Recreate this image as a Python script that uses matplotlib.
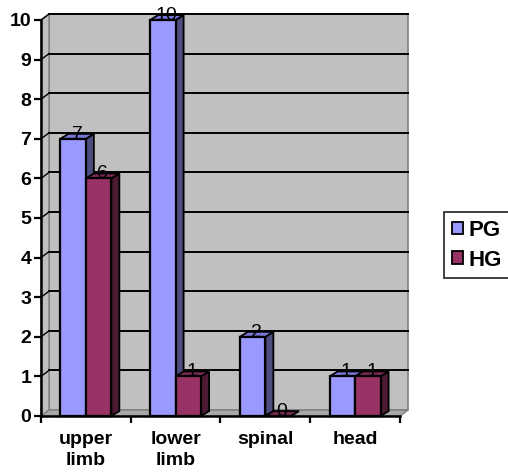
import matplotlib
matplotlib.use("Agg")
import matplotlib.pyplot as plt
from matplotlib.patches import Polygon
from matplotlib.lines import Line2D

plt.rcParams["font.family"] = ["Liberation Sans", "DejaVu Sans"]

categories = ["upper\nlimb", "lower\nlimb", "spinal", "head"]
series_names = ["PG", "HG"]
pg_values = [7, 10, 2, 1]
hg_values = [6, 1, 0, 1]

# colours: front, top, side
PG_COL = ("#9999FF", "#7878D8", "#4D4D80")
HG_COL = ("#993366", "#7A2952", "#4D1A33")
WALL = "#C0C0C0"

# 3D offsets (data units)
WALL_DX, WALL_DY = 0.089, 0.15
BAR_DX, BAR_DY = 0.089, 0.125
BAR_W = 0.284
Y_MAX = 10
FS = 14

fig = plt.figure(figsize=(5.08, 4.72), dpi=100)
ax = fig.add_axes([41 / 508, 56 / 472, 359 / 508, 396 / 472])
ax.set_xlim(0, len(categories))
ax.set_ylim(0, Y_MAX)
ax.set_facecolor("none")

n = len(categories)

# --- walls ---------------------------------------------------------------
back = Polygon([(WALL_DX, WALL_DY), (n + WALL_DX, WALL_DY),
                (n + WALL_DX, Y_MAX + WALL_DY), (WALL_DX, Y_MAX + WALL_DY)],
               closed=True, facecolor=WALL, edgecolor="#808080", lw=1.2,
               zorder=0, clip_on=False)
left = Polygon([(0, 0), (WALL_DX, WALL_DY), (WALL_DX, Y_MAX + WALL_DY), (0, Y_MAX)],
               closed=True, facecolor=WALL, edgecolor="#808080", lw=1.0,
               zorder=0, clip_on=False)
floor = Polygon([(0, 0), (n, 0), (n + WALL_DX, WALL_DY), (WALL_DX, WALL_DY)],
                closed=True, facecolor="#A8A8A8", edgecolor="#808080", lw=1.0,
                zorder=0.5, clip_on=False)
for p in (back, left, floor):
    ax.add_patch(p)

for v in range(1, Y_MAX + 1):
    ax.add_line(Line2D([WALL_DX, n + WALL_DX], [v + WALL_DY, v + WALL_DY],
                       color="black", lw=1.4, zorder=0.6, clip_on=False))
    ax.add_line(Line2D([0, WALL_DX], [v, v + WALL_DY],
                       color="black", lw=1.0, zorder=0.6, clip_on=False))


# --- bars ----------------------------------------------------------------
def bar3d(x0, h, cols, z):
    front_c, top_c, side_c = cols
    x1 = x0 + BAR_W
    side = Polygon([(x1, 0), (x1 + BAR_DX, BAR_DY), (x1 + BAR_DX, h + BAR_DY), (x1, h)],
                   closed=True, facecolor=side_c, edgecolor="black", lw=1.3,
                   zorder=z, clip_on=False)
    top = Polygon([(x0, h), (x1, h), (x1 + BAR_DX, h + BAR_DY), (x0 + BAR_DX, h + BAR_DY)],
                  closed=True, facecolor=top_c, edgecolor="black", lw=1.3,
                  zorder=z, clip_on=False)
    front = Polygon([(x0, 0), (x1, 0), (x1, h), (x0, h)],
                    closed=True, facecolor=front_c, edgecolor="black", lw=1.6,
                    zorder=z, clip_on=False)
    for p in (side, top, front):
        ax.add_patch(p)
    ax.text(x0 + BAR_W / 2 + BAR_DX / 2, h, str(h), ha="center", va="baseline",
            fontsize=FS, color="black", zorder=10)


for i in range(n):
    c = i + 0.5
    bar3d(c - BAR_W, pg_values[i], PG_COL, 2 + i * 2)
    bar3d(c, hg_values[i], HG_COL, 3 + i * 2)

# --- axes ----------------------------------------------------------------
for s in ("top", "right"):
    ax.spines[s].set_visible(False)
for s in ("left", "bottom"):
    ax.spines[s].set_linewidth(1.8)
    ax.spines[s].set_zorder(20)
ax.set_yticks(range(0, Y_MAX + 1))
ax.set_yticklabels([str(v) for v in range(0, Y_MAX + 1)], fontsize=FS, fontweight="bold")
ax.tick_params(axis="y", direction="out", length=5, width=1.6, pad=2)
ax.set_xticks(range(0, n + 1))
ax.set_xticklabels([])
ax.tick_params(axis="x", which="major", direction="out", length=5, width=1.6)
ax.set_xticks([i + 0.5 for i in range(n)], minor=True)
ax.set_xticklabels(categories, minor=True, fontsize=FS, fontweight="bold", linespacing=1.3)
ax.tick_params(axis="x", which="minor", length=0, pad=11)

# --- legend --------------------------------------------------------------
handles = [plt.Rectangle((0, 0), 1, 1, facecolor=PG_COL[0], edgecolor="black", lw=1.3),
           plt.Rectangle((0, 0), 1, 1, facecolor=HG_COL[0], edgecolor="black", lw=1.3)]
leg = fig.legend(handles, series_names, loc="upper left",
                 bbox_to_anchor=(444 / 508, 1 - 212 / 472),
                 prop={"weight": "bold", "size": 16}, frameon=True, fancybox=False,
                 edgecolor="black", handlelength=0.5, handleheight=0.5,
                 handletextpad=0.25, borderpad=0.35, labelspacing=0.4,
                 borderaxespad=0)
leg.get_frame().set_linewidth(1.3)

fig.savefig("out.png", dpi=100, facecolor="white")
